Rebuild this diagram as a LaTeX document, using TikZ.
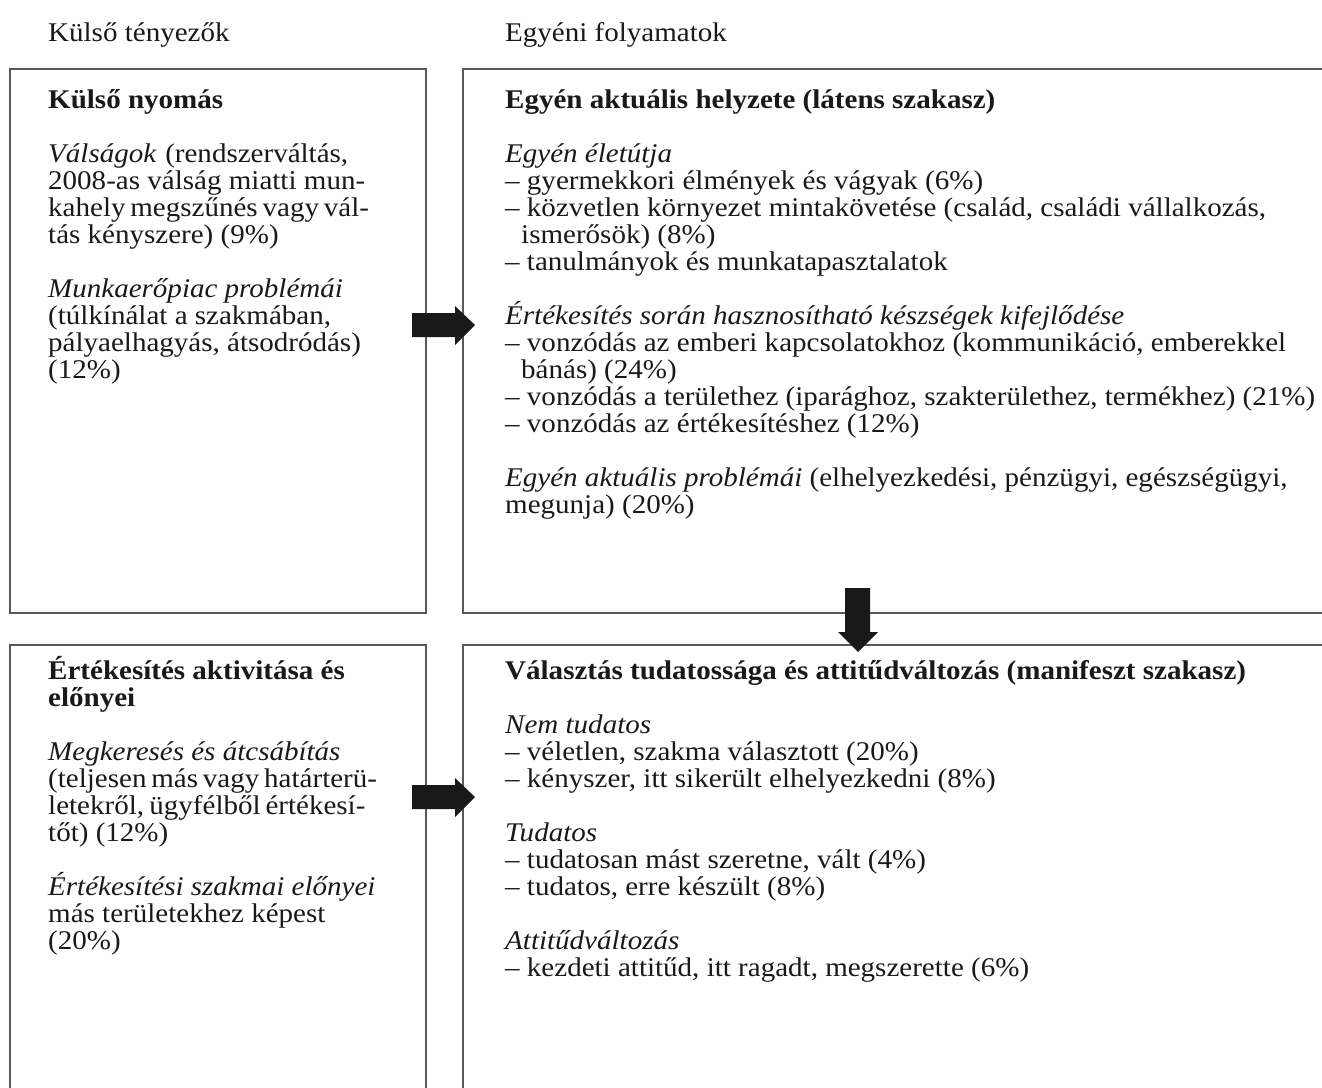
\documentclass[tikz,border=0pt]{standalone}
\usepackage{fontspec}
\setmainfont[FakeStretch=1.075]{Liberation Serif}
\begin{document}
\begin{tikzpicture}[x=1pt,y=-1pt,
  txt/.style={anchor=base west, inner sep=0pt, text=black!90, font=\fontsize{27}{27}\selectfont},
  boxline/.style={draw=black!65, line width=1.3pt},
  blk/.style={fill=black!90, draw=none}]
\useasboundingbox (0,0) rectangle (1322,1087);
\fill[white] (0,0) rectangle (1322,1087);
% boxes
\draw[boxline] (10,69) rectangle (426,613);
\draw[boxline] (1340,69) -- (463,69) -- (463,613) -- (1340,613);
\draw[boxline] (10,1100) -- (10,645) -- (426,645) -- (426,1100);
\draw[boxline] (1340,645) -- (463,645) -- (463,1100);
% headers
\node[txt] (h1) at (48,41) {Külső tényezők};
\node[txt] (h2) at (505,41) {Egyéni folyamatok};
% top-left
\node[txt] (a1) at (48,108) {\textbf{Külső nyomás}};
\node[txt] (a2) at (48,162) {\makebox[300pt][s]{\textit{Válságok} (rendszerváltás,}};
\node[txt] (a3) at (48,189) {\makebox[317pt][s]{2008-as válság miatti mun-}};
\node[txt] (a4) at (48,216) {\makebox[317pt][s]{kahely megszűnés vagy vál-}};
\node[txt] (a5) at (48,243) {tás kényszere) (9\%)};
\node[txt] (a6) at (48,297) {\textit{Munkaerőpiac problémái}};
\node[txt] (a7) at (48,324) {(túlkínálat a szakmában,};
\node[txt] (a8) at (48,351) {pályaelhagyás, átsodródás)};
\node[txt] (a9) at (48,378) {(12\%)};
% top-right
\node[txt] (b1) at (505,108) {\textbf{Egyén aktuális helyzete (látens szakasz)}};
\node[txt] (b2) at (505,162) {\textit{Egyén életútja}};
\node[txt] (b3) at (505,189) {– gyermekkori élmények és vágyak (6\%)};
\node[txt] (b4) at (505,216) {– közvetlen környezet mintakövetése (család, családi vállalkozás,};
\node[txt] (b5) at (521,243) {ismerősök) (8\%)};
\node[txt] (b6) at (505,270) {– tanulmányok és munkatapasztalatok};
\node[txt] (b7) at (505,324) {\textit{Értékesítés során hasznosítható készségek kifejlődése}};
\node[txt] (b8) at (505,351) {– vonzódás az emberi kapcsolatokhoz (kommunikáció, emberekkel};
\node[txt] (b9) at (521,378) {bánás) (24\%)};
\node[txt] (b10) at (505,405) {– vonzódás a területhez (iparághoz, szakterülethez, termékhez) (21\%)};
\node[txt] (b11) at (505,432) {– vonzódás az értékesítéshez (12\%)};
\node[txt] (b12) at (505,486) {\textit{Egyén aktuális problémái} (elhelyezkedési, pénzügyi, egészségügyi,};
\node[txt] (b13) at (505,513) {megunja) (20\%)};
% bottom-left
\node[txt] (c1) at (48,679) {\textbf{Értékesítés aktivitása és}};
\node[txt] (c2) at (48,706) {\textbf{előnyei}};
\node[txt] (c3) at (48,760) {\textit{Megkeresés és átcsábítás}};
\node[txt] (c4) at (48,787) {\makebox[317pt][s]{(teljesen más vagy határterü-}};
\node[txt] (c5) at (48,814) {\makebox[317pt][s]{letekről, ügyfélből értékesí-}};
\node[txt] (c6) at (48,841) {tőt) (12\%)};
\node[txt] (c7) at (48,895) {\textit{Értékesítési szakmai előnyei}};
\node[txt] (c8) at (48,922) {más területekhez képest};
\node[txt] (c9) at (48,949) {(20\%)};
% bottom-right
\node[txt] (d1) at (505,679) {\textbf{Választás tudatossága és attitűdváltozás (manifeszt szakasz)}};
\node[txt] (d2) at (505,733) {\textit{Nem tudatos}};
\node[txt] (d3) at (505,760) {– véletlen, szakma választott (20\%)};
\node[txt] (d4) at (505,787) {– kényszer, itt sikerült elhelyezkedni (8\%)};
\node[txt] (d5) at (505,841) {\textit{Tudatos}};
\node[txt] (d6) at (505,868) {– tudatosan mást szeretne, vált (4\%)};
\node[txt] (d7) at (505,895) {– tudatos, erre készült (8\%)};
\node[txt] (d8) at (505,949) {\textit{Attitűdváltozás}};
\node[txt] (d9) at (505,976) {– kezdeti attitűd, itt ragadt, megszerette (6\%)};
% block arrows
\fill[blk] (412,313) -- (455,313) -- (455,306) -- (475,325) -- (455,345) -- (455,337) -- (412,337) -- cycle;
\fill[blk] (412,785) -- (455,785) -- (455,778) -- (475,797) -- (455,817) -- (455,809) -- (412,809) -- cycle;
\fill[blk] (845,588) -- (870,588) -- (870,632) -- (878,632) -- (858,652) -- (838,632) -- (845,632) -- cycle;
\end{tikzpicture}
\end{document}
